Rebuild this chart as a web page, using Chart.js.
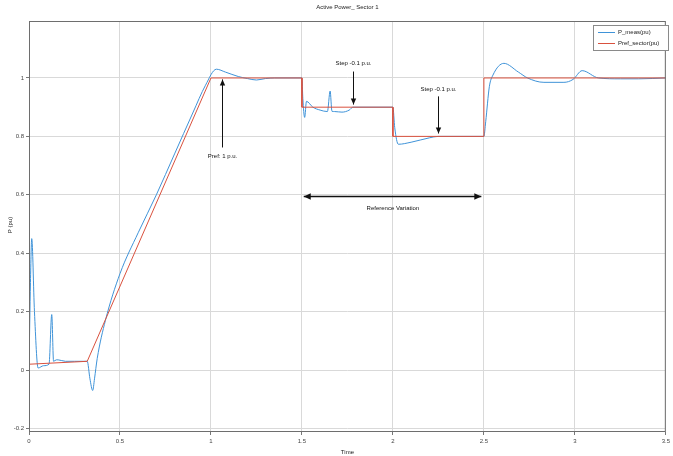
<!DOCTYPE html>
<html>
<head>
<meta charset="utf-8">
<script src="https://cdn.jsdelivr.net/npm/chart.js@4.4.1/dist/chart.umd.min.js"></script>
<style>
  html, body { margin: 0; padding: 0; background: #fff; }
  #wrap { width: 673px; height: 456px; }
</style>
</head>
<body>
<div id="wrap"><canvas id="c"></canvas></div>
<script>
// data (time in s, power in pu)
const measTime = [0, 0.008, 0.015, 0.03, 0.05, 0.08, 0.11, 0.125, 0.135, 0.15, 0.16, 0.2, 0.25, 0.3, 0.32, 0.335, 0.35, 0.36, 0.375,
  0.42, 0.5, 0.6, 0.7, 0.8, 0.9, 0.97, 1.03, 1.08, 1.15, 1.2, 1.25, 1.3, 1.35, 1.5,
  1.505, 1.515, 1.525, 1.56, 1.6, 1.64, 1.655, 1.665, 1.68, 1.72, 1.76, 1.78, 2.0,
  2.01, 2.03, 2.1, 2.2, 2.25, 2.5,
  2.51, 2.53, 2.55, 2.61, 2.69, 2.74, 2.83, 2.94, 2.99, 3.04, 3.13, 3.25, 3.35, 3.5];
const measPower = [0.0, 0.3, 0.45, 0.2, 0.007, 0.015, 0.02, 0.19, 0.03, 0.035, 0.035, 0.03, 0.03, 0.03, 0.03, -0.03, -0.07, -0.03, 0.04,
  0.17, 0.33, 0.47, 0.6, 0.74, 0.88, 0.975, 1.03, 1.02, 1.005, 0.998, 0.993, 0.998, 1.0, 1.0,
  0.93, 0.865, 0.92, 0.9, 0.89, 0.885, 0.955, 0.886, 0.885, 0.883, 0.89, 0.9, 0.9,
  0.83, 0.773, 0.78, 0.795, 0.8, 0.8,
  0.85, 0.97, 1.01, 1.05, 1.02, 1.0, 0.985, 0.985, 0.995, 1.025, 1.0, 0.997, 0.997, 1.0];
const refTime = [0, 0.32, 1.0, 1.5, 1.5, 2.0, 2.0, 2.5, 2.5, 3.5];
const refPower = [0.02, 0.03, 1.0, 1.0, 0.9, 0.9, 0.8, 0.8, 1.0, 1.0];
const xTicks = [0, 0.5, 1, 1.5, 2, 2.5, 3, 3.5];
const yTicks = [-0.2, 0, 0.2, 0.4, 0.6, 0.8, 1];
const seriesNames = ['P_meas(pu)', 'Pref_sector(pu)'];

// annotation placement, in data coordinates
const notes = {
  prefArrow: { x: 1.063, from: 0.762, to: 0.995, label: 'Pref: 1 p.u.', labelY: 0.73 },
  step1: { x: 1.783, from: 1.022, to: 0.909, label: 'Step -0.1 p.u.', labelY: 1.05 },
  step2: { x: 2.246, from: 0.937, to: 0.81, label: 'Step -0.1 p.u.', labelY: 0.96 },
  span: { x0: 1.51, x1: 2.486, y: 0.595, label: 'Reference Variation', labelX: 2.0, labelY: 0.554 }
};

const BLUE = '#3f93d8';
const RED = '#d9513e';
const FONT = '"Liberation Sans", Arial, sans-serif';

function toXY(xs, ys) {
  return xs.map((x, i) => ({ x: x, y: ys[i] }));
}

function arrowHead(ctx, x, y, dx, dy, size) {
  const len = Math.hypot(dx, dy);
  const ux = dx / len, uy = dy / len;
  ctx.beginPath();
  ctx.moveTo(x, y);
  ctx.lineTo(x - ux * size - uy * size * 0.45, y - uy * size + ux * size * 0.45);
  ctx.lineTo(x - ux * size + uy * size * 0.45, y - uy * size - ux * size * 0.45);
  ctx.closePath();
  ctx.fill();
}

const decorPlugin = {
  id: 'decor',
  afterDatasetsDraw(chart) {
    const ctx = chart.ctx;
    const xs = chart.scales.x, ys = chart.scales.y;
    const a = chart.chartArea;
    ctx.save();
    // frame
    ctx.strokeStyle = '#6e6e6e';
    ctx.lineWidth = 1;
    ctx.strokeRect(a.left + 0.5, a.top + 0.5, a.right - a.left - 1, a.bottom - a.top - 1);

    ctx.fillStyle = '#111';
    ctx.strokeStyle = '#111';
    ctx.font = '6px ' + FONT;
    ctx.textAlign = 'center';
    ctx.textBaseline = 'middle';

    // vertical arrows
    [notes.prefArrow, notes.step1, notes.step2].forEach(n => {
      const px = Math.round(xs.getPixelForValue(n.x)) + 0.5;
      const y0 = ys.getPixelForValue(n.from), y1 = ys.getPixelForValue(n.to);
      ctx.beginPath();
      ctx.moveTo(px, y0);
      ctx.lineTo(px, y1);
      ctx.stroke();
      arrowHead(ctx, px, y1, 0, y1 - y0, 6);
      ctx.fillText(n.label, px, ys.getPixelForValue(n.labelY));
    });

    // double arrow
    const s = notes.span;
    const sy = Math.round(ys.getPixelForValue(s.y)) + 0.5;
    const sx0 = xs.getPixelForValue(s.x0), sx1 = xs.getPixelForValue(s.x1);
    ctx.lineWidth = 1.5;
    ctx.beginPath();
    ctx.moveTo(sx0, sy);
    ctx.lineTo(sx1, sy);
    ctx.stroke();
    arrowHead(ctx, sx0, sy, -1, 0, 7);
    arrowHead(ctx, sx1, sy, 1, 0, 7);
    ctx.fillText(s.label, xs.getPixelForValue(s.labelX), ys.getPixelForValue(s.labelY));

    // legend box
    const lx = 593, ly = 25, lw = 75, lh = 25;
    ctx.fillStyle = '#fff';
    ctx.fillRect(lx, ly, lw, lh);
    ctx.strokeStyle = '#8a8a8a';
    ctx.lineWidth = 1;
    ctx.strokeRect(lx + 0.5, ly + 0.5, lw, lh);
    [BLUE, RED].forEach((col, i) => {
      const yy = ly + 7 + i * 11 + 0.5;
      ctx.strokeStyle = col;
      ctx.beginPath();
      ctx.moveTo(lx + 5, yy);
      ctx.lineTo(lx + 22, yy);
      ctx.stroke();
      ctx.fillStyle = '#222';
      ctx.textAlign = 'left';
      ctx.fillText(seriesNames[i], lx + 25, yy);
    });

    // title and axis titles
    ctx.fillStyle = '#222';
    ctx.textAlign = 'center';
    ctx.font = '6px ' + FONT;
    ctx.fillText('Active Power_ Sector 1', (a.left + a.right) / 2, 7);
    ctx.fillText('Time', (a.left + a.right) / 2, 452);
    ctx.translate(10, 225);
    ctx.rotate(-Math.PI / 2);
    ctx.fillText('P (pu)', 0, 0);
    ctx.restore();
  }
};

new Chart(document.getElementById('c'), {
  type: 'line',
  data: {
    datasets: [
      {
        label: seriesNames[1],
        data: toXY(refTime, refPower),
        borderColor: RED,
        borderWidth: 1,
        pointRadius: 0,
        tension: 0
      },
      {
        label: seriesNames[0],
        data: toXY(measTime, measPower),
        borderColor: BLUE,
        borderWidth: 1,
        pointRadius: 0,
        cubicInterpolationMode: 'monotone'
      }
    ]
  },
  options: {
    responsive: true,
    maintainAspectRatio: false,
    animation: false,
    layout: { padding: { left: 0, right: 3, top: 21, bottom: 0 } },
    plugins: {
      legend: { display: false },
      tooltip: { enabled: false }
    },
    scales: {
      x: {
        type: 'linear',
        min: 0,
        max: 3.5,
        afterBuildTicks: axis => { axis.ticks = xTicks.map(v => ({ value: v })); },
        afterFit: axis => { axis.height = 24; },
        grid: { color: '#d9d9d9', drawTicks: true, tickLength: 3, tickColor: '#777' },
        border: { display: false },
        ticks: {
          color: '#444',
          font: { size: 6, family: FONT },
          padding: 3,
          maxRotation: 0,
          callback: v => String(v)
        }
      },
      y: {
        type: 'linear',
        min: -0.212,
        max: 1.195,
        afterBuildTicks: axis => { axis.ticks = yTicks.map(v => ({ value: v })); },
        afterFit: axis => { axis.width = 29; },
        grid: { color: '#d9d9d9', drawTicks: true, tickLength: 3, tickColor: '#777' },
        border: { display: false },
        ticks: {
          color: '#444',
          font: { size: 6, family: FONT },
          padding: 2,
          callback: v => String(Math.round(v * 10) / 10)
        }
      }
    }
  },
  plugins: [decorPlugin]
});
</script>
</body>
</html>
